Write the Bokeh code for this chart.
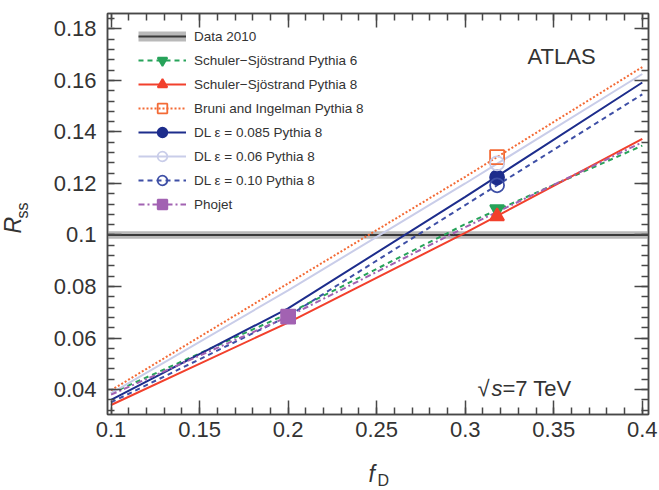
import math

from bokeh.embed import file_html
from bokeh.models import (ColumnDataSource, FixedTicker, Label, Legend,
                          LegendItem, LinearAxis, Range1d)
from bokeh.plotting import figure
from bokeh.resources import INLINE

# ---------------------------------------------------------------------------
# R_ss as a function of the diffractive fraction f_D for several MC models
# ---------------------------------------------------------------------------
f_grid = [0.1, 0.2, 0.3, 0.4]

rss_ss_py6 = [0.0385, 0.0695, 0.1042, 0.1347]
rss_ss_py8 = [0.0340, 0.0660, 0.1008, 0.1373]
rss_bruni_py8 = [0.0397, 0.0812, 0.1226, 0.1652]
rss_dl085_py8 = [0.0360, 0.0715, 0.1148, 0.1592]
rss_dl006_py8 = [0.0385, 0.0785, 0.1200, 0.1625]
rss_dl010_py8 = [0.0350, 0.0685, 0.1116, 0.1546]
rss_phojet = [0.0380, 0.0683, 0.1030, 0.1360]

# default f_D predicted by each generator and the corresponding R_ss
fd_default = 0.318
fd_phojet = 0.2
pt_ss_py6 = 0.1100
pt_ss_py8 = 0.1073
pt_bruni_py8 = 0.1302
pt_dl085_py8 = 0.1224
pt_dl006_py8 = 0.1278
pt_dl010_py8 = 0.1193
pt_phojet = 0.0683

# measured value with its uncertainty band
data_2010 = 0.100
data_2010_err = 0.0015

x_ticks = [0.1, 0.15, 0.2, 0.25, 0.3, 0.35, 0.4]
x_tick_labels = ["0.1", "0.15", "0.2", "0.25", "0.3", "0.35", "0.4"]
y_ticks = [0.04, 0.06, 0.08, 0.1, 0.12, 0.14, 0.16, 0.18]
y_tick_labels = ["0.04", "0.06", "0.08", "0.1", "0.12", "0.14", "0.16", "0.18"]

X_MIN, X_MAX = 0.098, 0.4035
Y_MIN, Y_MAX = 0.0303, 0.186

FONT = "Liberation Sans"
TXT = "#333333"
AX = "#474747"

p = figure(width=659, height=490, output_backend="svg", toolbar_location=None,
           x_range=Range1d(X_MIN, X_MAX), y_range=Range1d(Y_MIN, Y_MAX),
           min_border_left=107, min_border_right=11, min_border_top=13,
           min_border_bottom=76)
p.background_fill_color = "white"
p.border_fill_color = "white"
p.outline_line_color = AX
p.outline_line_width = 1.5
p.xgrid.visible = False
p.ygrid.visible = False

x_minor = [round(0.1 + 0.01 * i, 3) for i in range(31)]
y_minor = [round(0.032 + 0.004 * i, 3) for i in range(39) if 0.032 + 0.004 * i < Y_MAX]


def style_axis(ax, ticks, minor, labels, show_labels):
    ax.ticker = FixedTicker(ticks=ticks, minor_ticks=minor)
    ax.axis_line_color = AX
    ax.axis_line_width = 1.5
    ax.major_tick_line_color = AX
    ax.major_tick_line_width = 1.5
    ax.minor_tick_line_color = AX
    ax.minor_tick_line_width = 1.5
    ax.major_tick_in = 14
    ax.major_tick_out = 0
    ax.minor_tick_in = 7
    ax.minor_tick_out = 0
    if show_labels:
        ax.major_label_overrides = {t: l for t, l in zip(ticks, labels)}
        ax.major_label_text_font = FONT
        ax.major_label_text_font_size = "22px"
        ax.major_label_text_color = TXT
    else:
        ax.major_label_overrides = {t: "" for t in ticks}
        ax.major_label_text_font_size = "0px"
        ax.major_label_standoff = 0


style_axis(p.xaxis[0], x_ticks, x_minor, x_tick_labels, True)
p.xaxis[0].major_label_standoff = 7
style_axis(p.yaxis[0], y_ticks, y_minor, y_tick_labels, True)
p.yaxis[0].major_label_standoff = 11

top_ax = LinearAxis()
style_axis(top_ax, x_ticks, x_minor, x_tick_labels, False)
p.add_layout(top_ax, "above")
right_ax = LinearAxis()
style_axis(right_ax, y_ticks, y_minor, y_tick_labels, False)
p.add_layout(right_ax, "right")

# --- data band -------------------------------------------------------------
band = p.varea(x=[X_MIN, X_MAX],
               y1=[data_2010 - data_2010_err] * 2,
               y2=[data_2010 + data_2010_err] * 2,
               fill_color="#b9b9b9")
data_line = p.line(x=[X_MIN, X_MAX], y=[data_2010] * 2,
                   line_color="#3a3a3a", line_width=2)
# legend-only stand-in for the band (a single undefined point draws nothing)
band_proxy = p.line(x=[float("nan")], y=[float("nan")],
                    line_color="#b9b9b9", line_width=10)

# --- model curves ----------------------------------------------------------
models = [
    # label, curve, point x, point y, colour, dash, marker, filled
    ("Schuler\u2212Sj\u00f6strand Pythia 6", rss_ss_py6, fd_default, pt_ss_py6,
     "#27a35a", "5 4", "inverted_triangle", True),
    ("Schuler\u2212Sj\u00f6strand Pythia 8", rss_ss_py8, fd_default, pt_ss_py8,
     "#f2402c", "solid", "triangle", True),
    ("Bruni and Ingelman Pythia 8", rss_bruni_py8, fd_default, pt_bruni_py8,
     "#f36a35", "2 2", "square", False),
    ("DL \u03b5 = 0.085 Pythia 8", rss_dl085_py8, fd_default, pt_dl085_py8,
     "#1d2d8c", "solid", "circle", True),
    ("DL \u03b5 = 0.06 Pythia 8", rss_dl006_py8, fd_default, pt_dl006_py8,
     "#c9cde9", "solid", "circle", False),
    ("DL \u03b5 = 0.10 Pythia 8", rss_dl010_py8, fd_default, pt_dl010_py8,
     "#3e4fa6", "5 4", "circle", False),
    ("Phojet", rss_phojet, fd_phojet, pt_phojet,
     "#a262b2", "6 3 2 3", "square", True),
]

items = [LegendItem(label="Data 2010", renderers=[band_proxy, data_line])]
curve_renderers = []
point_renderers = []
for label, curve, px, py, color, dash, marker, filled in models:
    lr = p.line(x=f_grid, y=curve, line_color=color, line_width=2,
                line_dash=dash)
    curve_renderers.append(lr)
    src = ColumnDataSource(dict(x=[px], y=[py]))
    mr = p.scatter(x="x", y="y", source=src, marker=marker, size=14,
                   line_color=color, line_width=1.8,
                   fill_color=color if filled else None)
    point_renderers.append(mr)
    items.append(LegendItem(label=label, renderers=[lr, mr]))

# markers on top of all curves
p.renderers = [band, data_line, band_proxy] + curve_renderers + point_renderers

legend = Legend(items=items, location=(31, 198), padding=0, margin=0,
                spacing=0, glyph_width=48, glyph_height=24, label_height=24,
                label_standoff=8, label_text_font=FONT,
                label_text_font_size="13.5px", label_text_color=TXT,
                background_fill_alpha=0, border_line_color=None)
p.add_layout(legend, "center")


# --- texts -----------------------------------------------------------------
def make_label(text, x, y, size, style="normal", angle=0.0):
    return Label(x=x, y=y, x_units="screen", y_units="screen",
                 text=text, text_font=FONT,
                 text_font_size=size, text_font_style=style,
                 text_color=TXT, text_baseline="alphabetic",
                 text_align="left", angle=angle)


# axis titles live in the side panels
p.add_layout(make_label("f", 261, -8, "23px", "italic"), "below")
p.add_layout(make_label("D", 270, 2, "16px"), "below")
p.add_layout(make_label("R", -12, 181, "23px", "italic", math.pi / 2), "left")
p.add_layout(make_label("ss", 15, 196, "16px", "normal", math.pi / 2), "left")

# experiment and energy
p.add_layout(make_label("ATLAS", 420, 358, "22px"), "center")
p.add_layout(make_label("\u221a", 370, 26, "22px"), "center")
p.add_layout(make_label("s", 384, 26, "22px", "italic"), "center")
p.add_layout(make_label("=7 TeV", 395, 26, "22px"), "center")

open("out.html", "w").write(file_html(p, INLINE))
